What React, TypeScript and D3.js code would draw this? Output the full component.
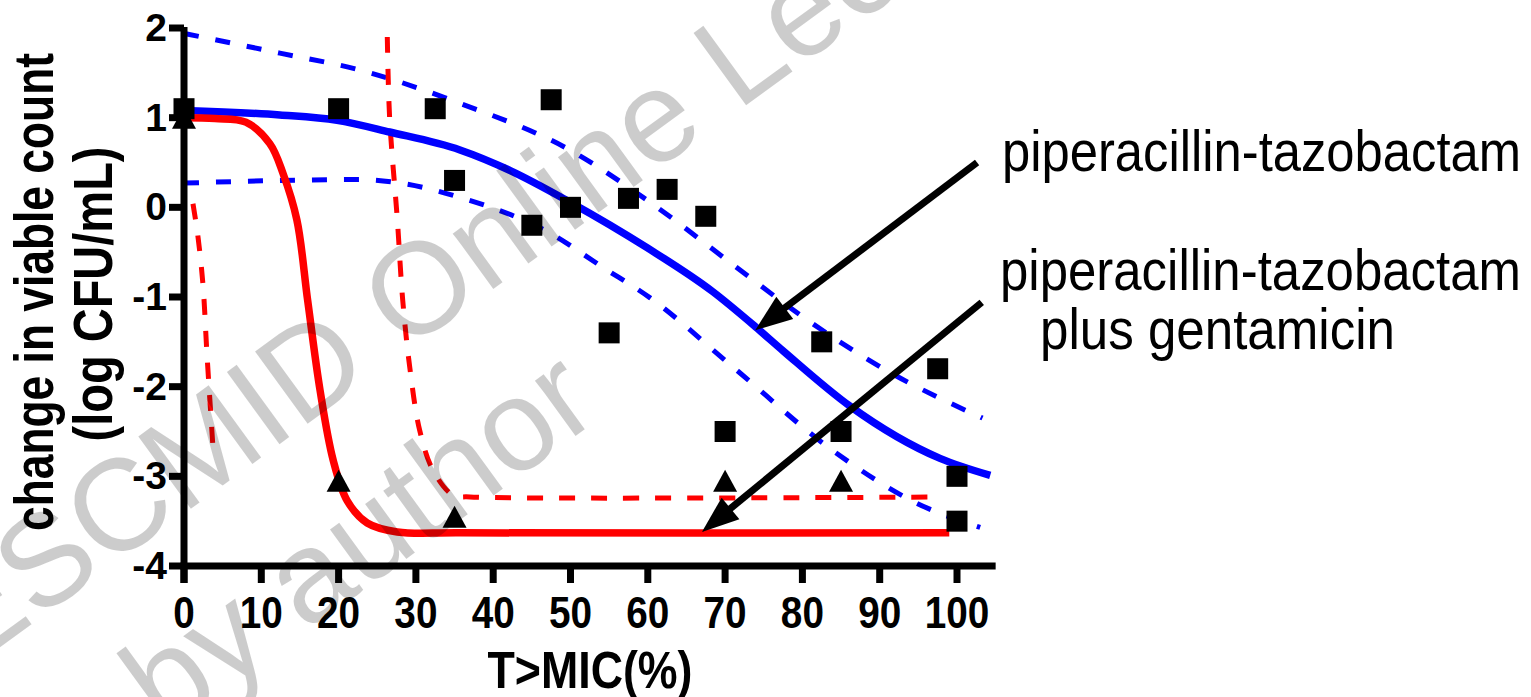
import * as d3 from 'd3';
import React from 'react';

const W = 1531;
const H = 697;
const FONT = '"Liberation Sans", Arial, Helvetica, sans-serif';

// axis ticks
const xTicks = [0, 10, 20, 30, 40, 50, 60, 70, 80, 90, 100];
const yTicks = [-4, -3, -2, -1, 0, 1, 2];

// observed: piperacillin-tazobactam (squares)
const ptX = [0, 20, 32.5, 35, 47.5, 45, 50, 57.5, 62.5, 67.5, 55, 70, 82.5, 85, 97.5, 100, 100];
const ptY = [1.1, 1.1, 1.1, 0.3, 1.2, -0.2, 0.0, 0.1, 0.2, -0.1, -1.4, -2.5, -1.5, -2.5, -1.8, -3.0, -3.5];

// observed: piperacillin-tazobactam plus gentamicin (triangles)
const ptgX = [0, 20, 35, 70, 85];
const ptgY = [1.0, -3.05, -3.45, -3.05, -3.05];

// fitted curve + 95% band, piperacillin-tazobactam
const ptFitX = [0, 12.4, 19.8, 26.6, 35.7, 42.2, 49.9, 59.9, 68.4, 73.9, 77.5, 86.2, 97.8, 104.3];
const ptFitY = [1.08, 1.03, 0.97, 0.84, 0.64, 0.41, 0.06, -0.45, -0.94, -1.33, -1.6, -2.22, -2.8, -2.99];
const ptHiX = [0, 12.4, 22.8, 35.7, 49.9, 59.9, 71.5, 79.7, 90.9, 103.3];
const ptHiY = [1.94, 1.72, 1.53, 1.16, 0.64, 0.08, -0.67, -1.2, -1.82, -2.35];
const ptLoX = [0, 12.4, 22.8, 28, 35.7, 47.4, 54.2, 60.3, 71, 83.9, 94.8, 103];
const ptLoY = [0.27, 0.3, 0.31, 0.27, 0.11, -0.29, -0.67, -1.01, -1.78, -2.71, -3.3, -3.57];

// fitted curve + band, plus gentamicin
const ptgFitX = [0, 4, 8, 11.1, 12.8, 14.6, 16, 17.6, 19.3, 21.1, 23.7, 27.6, 35.7, 99];
const ptgFitY = [1.0, 0.99, 0.95, 0.71, 0.38, -0.14, -1.04, -2.04, -2.82, -3.27, -3.52, -3.62, -3.63, -3.63];
const ptgHiX = [26.3, 26.6, 27.6, 28.3, 29.2, 30.5, 32.2, 34.8, 37, 97.8];
const ptgHiY = [1.9, 1.0, -0.14, -1.04, -1.78, -2.49, -2.93, -3.21, -3.23, -3.23];
const ptgLoX = [1.16, 1.81, 2.46, 2.98, 3.75];
const ptgLoY = [0.04, -0.33, -0.87, -1.65, -2.68];

// annotation arrows [startX, startY, tipX, tipY] in data units
const arrowPT = [102.6, 0.5, 73.9, -1.37];
const arrowPTG = [103.2, -1.06, 67, -3.62];

const zipXY = (xs: number[], ys: number[]) => xs.map((v, i) => [v, ys[i]] as [number, number]);

function Arrow({ a, x, y }: { a: number[]; x: any; y: any }) {
  const sx = x(a[0]), sy = y(a[1]), tx = x(a[2]), ty = y(a[3]);
  const len = Math.hypot(tx - sx, ty - sy);
  const ux = (tx - sx) / len, uy = (ty - sy) / len;
  const hl = 37, hw = 14;
  const bx = tx - ux * hl, by = ty - uy * hl;
  const pts = [
    [tx, ty],
    [bx - uy * hw, by + ux * hw],
    [bx + uy * hw, by - ux * hw],
  ];
  return (
    <g>
      <line x1={sx} y1={sy} x2={bx + ux * 4} y2={by + uy * 4} stroke="#000" strokeWidth={7} />
      <polygon points={pts.map(p => p.join(',')).join(' ')} fill="#000" />
    </g>
  );
}

export default function App() {
  const x = d3.scaleLinear().domain([0, 100]).range([184, 957]);
  const y = d3.scaleLinear().domain([-4, 2]).range([566, 28]);

  const line = d3
    .line<[number, number]>()
    .curve(d3.curveMonotoneX)
    .x(d => x(d[0]))
    .y(d => y(d[1]));
  const smooth = d3
    .line<[number, number]>()
    .curve(d3.curveCatmullRom.alpha(0.5))
    .x(d => x(d[0]))
    .y(d => y(d[1]));

  const x0 = x(0);
  const yAxisBottom = y(-4);
  const xEnd = x(105);
  const xTickFont = 44;

  return (
    <svg
      width={W}
      height={H}
      viewBox={`0 0 ${W} ${H}`}
      style={{ position: 'absolute', left: 0, top: 0, background: '#fff' }}
    >
      <rect width={W} height={H} fill="#fff" />

      {/* fitted curves */}
      <g fill="none">
        <path d={line(zipXY(ptHiX, ptHiY)) || ''} stroke="#0000ff" strokeWidth={5} strokeDasharray="15 17" />
        <path d={line(zipXY(ptLoX, ptLoY)) || ''} stroke="#0000ff" strokeWidth={5} strokeDasharray="15 17" />
        <path d={smooth(zipXY(ptgHiX, ptgHiY)) || ''} stroke="#ff0000" strokeWidth={5} strokeDasharray="16 16" />
        <path d={smooth(zipXY(ptgLoX, ptgLoY)) || ''} stroke="#ff0000" strokeWidth={5} strokeDasharray="16 16" />
        <path d={line(zipXY(ptFitX, ptFitY)) || ''} stroke="#0000ff" strokeWidth={7.5} />
        <path d={smooth(zipXY(ptgFitX, ptgFitY)) || ''} stroke="#ff0000" strokeWidth={7.5} />
      </g>

      {/* data points */}
      <g fill="#000">
        {ptX.map((v, i) => (
          <rect key={'s' + i} x={x(v) - 10.5} y={y(ptY[i]) - 10.5} width={21} height={21} />
        ))}
        {ptgX.map((v, i) => {
          const cx = x(v), cy = y(ptgY[i]);
          return (
            <polygon
              key={'t' + i}
              points={`${cx},${cy - 11} ${cx + 12},${cy + 11} ${cx - 12},${cy + 11}`}
            />
          );
        })}
      </g>

      {/* axes */}
      <g stroke="#000" strokeWidth={7} fill="none">
        <line x1={x0} y1={y(2) - 1} x2={x0} y2={yAxisBottom + 17} />
        <line x1={x0 - 3.5} y1={yAxisBottom} x2={xEnd} y2={yAxisBottom} />
        {xTicks.map(t => (
          <line key={'xt' + t} x1={x(t)} y1={yAxisBottom} x2={x(t)} y2={yAxisBottom + 17} />
        ))}
        {yTicks.map(t => (
          <line key={'yt' + t} x1={x0 - 15} y1={y(t)} x2={x0} y2={y(t)} />
        ))}
      </g>
      <g fontFamily={FONT} fontWeight="bold" fill="#000">
        {xTicks.map(t => (
          <text
            key={'xl' + t}
            x={x(t)}
            y={628}
            fontSize={xTickFont}
            textAnchor="middle"
            textLength={String(t).length * 0.556 * xTickFont * 0.88}
            lengthAdjust="spacingAndGlyphs"
          >
            {t}
          </text>
        ))}
        {yTicks.map(t => (
          <text key={'yl' + t} x={167} y={y(t) + 13} fontSize={39} textAnchor="end">
            {t}
          </text>
        ))}
        <text x={590} y={688} fontSize={52} textAnchor="middle" textLength={205} lengthAdjust="spacingAndGlyphs">
          T&gt;MIC(%)
        </text>
        <text
          transform="translate(53,292) rotate(-90)"
          fontSize={56}
          textAnchor="middle"
          textLength={478}
          lengthAdjust="spacingAndGlyphs"
        >
          change in viable count
        </text>
        <text
          transform="translate(112,294) rotate(-90)"
          fontSize={55}
          textAnchor="middle"
          textLength={295}
          lengthAdjust="spacingAndGlyphs"
        >
          (log CFU/mL)
        </text>
      </g>

      {/* annotations */}
      <Arrow a={arrowPT} x={x} y={y} />
      <Arrow a={arrowPTG} x={x} y={y} />
      <g fontFamily={FONT} fontSize={58} fill="#000">
        <text x={1002} y={171} textLength={519} lengthAdjust="spacingAndGlyphs">
          piperacillin-tazobactam
        </text>
        <text x={1000} y={290} textLength={521} lengthAdjust="spacingAndGlyphs">
          piperacillin-tazobactam
        </text>
        <text x={1040} y={349} textLength={355} lengthAdjust="spacingAndGlyphs">
          plus gentamicin
        </text>
      </g>

      {/* watermark */}
      <g fontFamily={FONT} fontSize={130} fill="#000" fillOpacity={0.2}>
        <text transform="translate(-34,672) rotate(-36)">ESCMID Online Lecture Library</text>
        <text transform="translate(58,812) rotate(-36)">© by author</text>
      </g>
    </svg>
  );
}
